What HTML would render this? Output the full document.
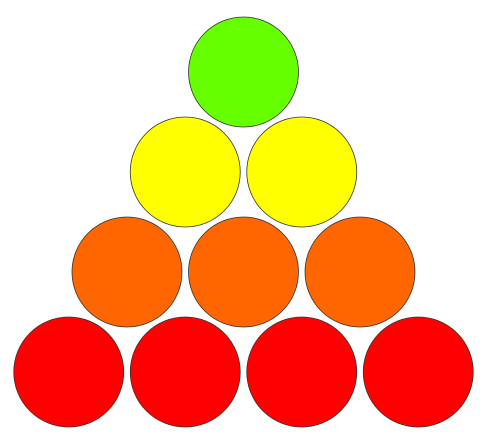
<!DOCTYPE html>
<html><head><meta charset="utf-8"><style>html,body{margin:0;padding:0;background:#fff;}svg{display:block}</style></head>
<body>
<svg id="chart" width="486" height="442" viewBox="0 0 486 442" xmlns="http://www.w3.org/2000/svg"></svg>
<script>
const rowCounts = [1, 2, 3, 4];
const rowColors = ["#66ff00", "#ffff00", "#ff6600", "#ff0000"];
const rowNames = ["green", "yellow", "orange", "red"];

const svg = document.getElementById('chart');
const ns = 'http://www.w3.org/2000/svg';
const cxCenter = 243.5, step = 116.5, rowStep = 100, top0 = 72, r = 55;
function xPos(row, i){ return cxCenter + (i - (rowCounts[row]-1)/2) * step; }
function yPos(row){ return top0 + row * rowStep; }
rowCounts.forEach((n, row) => {
  for (let i = 0; i < n; i++) {
    const c = document.createElementNS(ns, 'circle');
    c.setAttribute('cx', xPos(row, i));
    c.setAttribute('cy', yPos(row));
    c.setAttribute('r', r);
    c.setAttribute('fill', rowColors[row]);
    c.setAttribute('stroke', '#333');
    c.setAttribute('stroke-width', '0.8');
    
    
    svg.appendChild(c);
  }
});
</script>
</body></html>
